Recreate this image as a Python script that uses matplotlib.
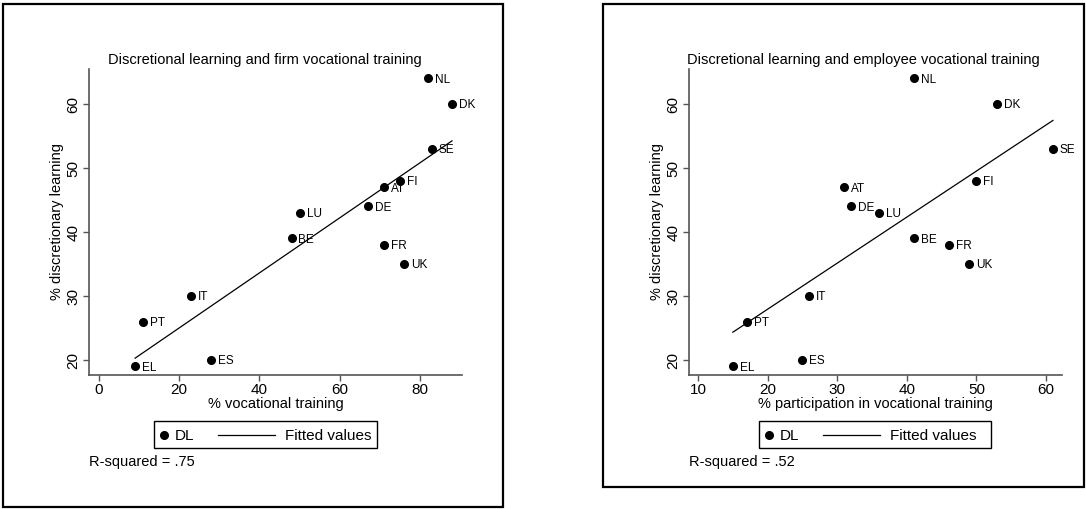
import matplotlib.pyplot as plt
import numpy as np
from matplotlib.lines import Line2D
from matplotlib.patches import Rectangle

plt.rcParams['font.family'] = ['Liberation Sans', 'DejaVu Sans']

countries = ['NL', 'DK', 'SE', 'FI', 'AT', 'DE', 'LU', 'BE', 'FR', 'UK',
             'IT', 'PT', 'ES', 'EL']
discretionary = [64, 60, 53, 48, 47, 44, 43, 39, 38, 35, 30, 26, 20, 19]
firm_training = [82, 88, 83, 75, 71, 67, 50, 48, 71, 76, 23, 11, 28, 9]
employee_training = [41, 53, 61, 50, 31, 32, 36, 41, 46, 49, 26, 17, 25, 15]

titles = ['Discretional learning and firm vocational training',
          'Discretional learning and employee vocational training']
xlabels = ['% vocational training', '% participation in vocational training']
r_squared = ['R-squared = .75', 'R-squared = .52']
legend_labels = ['DL', 'Fitted values']
xticks = [[0, 20, 40, 60, 80], [10, 20, 30, 40, 50, 60]]
yticks = [20, 30, 40, 50, 60]

W, H = 1086, 509


def px(x0, y0, x1, y1):
    # pixel box (top-left origin) -> figure fraction rect
    return [x0 / W, 1 - y1 / H, (x1 - x0) / W, (y1 - y0) / H]


def fx(x):
    return x / W


def fy(y):
    return 1 - y / H


fig = plt.figure(figsize=(W / 100, H / 100), dpi=100)
fig.patch.set_facecolor('white')

panels = [
    dict(frame=(3, 4, 503, 507), axes=(89, 69, 462, 375),
         xlim=(-2.5, 90.5), x=firm_training, title_x=265, legend=(154, 377)),
    dict(frame=(603, 4, 1084, 487), axes=(689, 69, 1062, 375),
         xlim=(8.7, 62.3), x=employee_training, title_x=863, legend=(759, 991)),
]

for i, p in enumerate(panels):
    fx0, fy0, fx1, fy1 = p['frame']
    fig.patches.append(Rectangle((fx(fx0), fy(fy1)), (fx1 - fx0) / W,
                                 (fy1 - fy0) / H, transform=fig.transFigure,
                                 fill=False, edgecolor='black', linewidth=1.6))

    ax = fig.add_axes(px(*p['axes']))
    x = np.array(p['x'], dtype=float)
    y = np.array(discretionary, dtype=float)

    ax.plot(x, y, 'o', color='black', markersize=5.5, zorder=3)
    for cx, cy, name in zip(x, y, countries):
        ax.annotate(name, (cx, cy), xytext=(5, -1), textcoords='offset points',
                    fontsize=8.5, va='center', ha='left')

    slope, icpt = np.polyfit(x, y, 1)
    xf = np.array([x.min(), x.max()])
    ax.plot(xf, slope * xf + icpt, color='black', linewidth=0.9)

    ax.set_xlim(*p['xlim'])
    ax.set_ylim(17.66, 65.47)
    ax.set_xticks(xticks[i])
    ax.set_yticks(yticks)
    ax.tick_params(axis='both', labelsize=11, length=4, width=1,
                   color='#555555', pad=2)
    for lab in ax.get_yticklabels():
        lab.set_rotation(90)
        lab.set_va('center')
    ax.set_xlabel(xlabels[i], fontsize=10.5, labelpad=0)
    ax.set_ylabel('% discretionary learning', fontsize=10.5, labelpad=2)
    for s in ['top', 'right']:
        ax.spines[s].set_visible(False)
    for s in ['left', 'bottom']:
        ax.spines[s].set_color('#555555')
        ax.spines[s].set_linewidth(1.2)
    ax.patch.set_alpha(0)

    fig.text(fx(p['title_x']), fy(60), titles[i], fontsize=10.5,
             ha='center', va='center')

    # legend box drawn by hand, Stata style
    lx0, lx1 = p['legend']
    ly0, ly1 = 421, 448
    ym = (ly0 + ly1) / 2
    fig.patches.append(Rectangle((fx(lx0), fy(ly1)), (lx1 - lx0) / W,
                                 (ly1 - ly0) / H, transform=fig.transFigure,
                                 fill=False, edgecolor='black', linewidth=1.0))
    fig.lines.append(Line2D([fx(lx0 + 10)], [fy(ym)], marker='o', color='black',
                            markersize=5.5, linestyle='none',
                            transform=fig.transFigure))
    fig.text(fx(lx0 + 21), fy(ym + 1.5), legend_labels[0], fontsize=11,
             ha='left', va='center')
    fig.lines.append(Line2D([fx(lx0 + 64), fx(lx0 + 121)], [fy(ym), fy(ym)],
                            color='black', linewidth=0.9,
                            transform=fig.transFigure))
    fig.text(fx(lx0 + 131), fy(ym + 1.5), legend_labels[1], fontsize=11,
             ha='left', va='center')

    fig.text(fx(p['axes'][0]), fy(462), r_squared[i], fontsize=10.5,
             ha='left', va='center')

fig.savefig('out.png', dpi=100, facecolor='white')
